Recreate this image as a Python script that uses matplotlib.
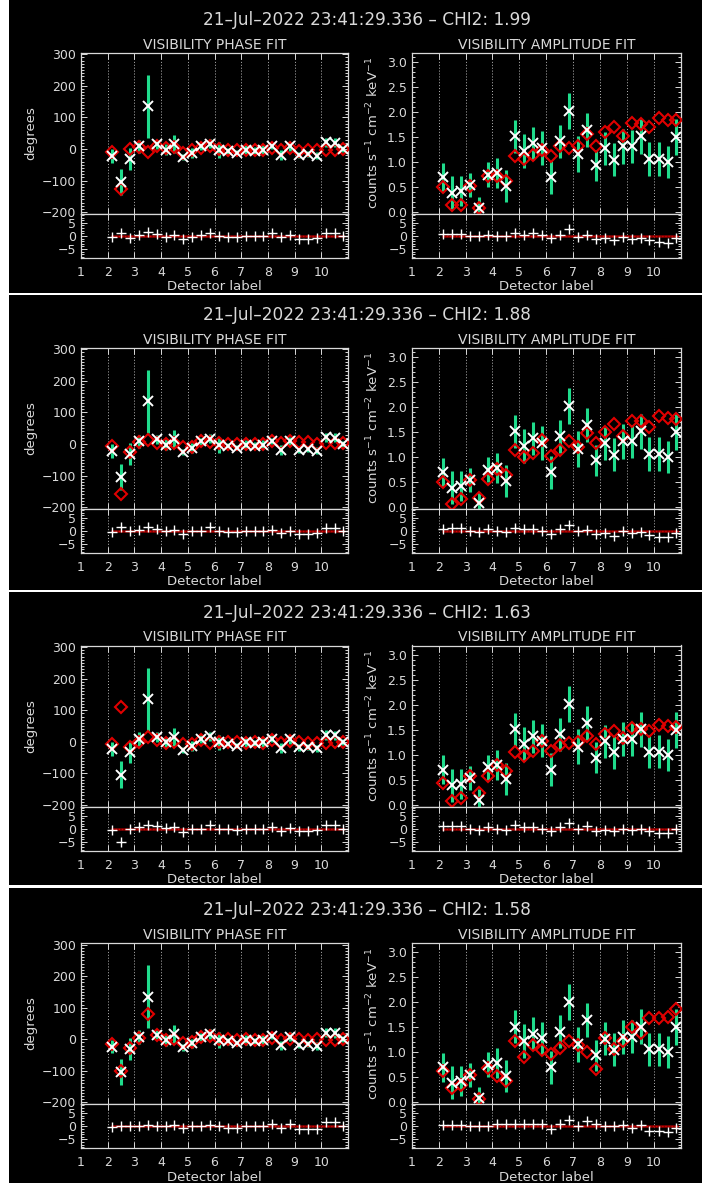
import matplotlib
matplotlib.use("Agg")
import matplotlib.pyplot as plt
from matplotlib.patches import Rectangle
from matplotlib.ticker import MultipleLocator, AutoMinorLocator

plt.rcParams['font.family'] = ['DejaVu Sans']

# ---------------- data ----------------
detector_x = [2.17, 2.5, 2.83, 3.17, 3.5, 3.83, 4.17, 4.5, 4.83, 5.17, 5.5, 5.83,
              6.17, 6.5, 6.83, 7.17, 7.5, 7.83, 8.17, 8.5, 8.83, 9.17, 9.5, 9.83,
              10.17, 10.5, 10.83]

obs_phase = [-23, -104, -31, 8, 135, 15, -2, 16, -26, -13, 8, 17,
             -2, -7, -12, -2, -5, -2, 10, -19, 8, -18, -16, -21, 21, 20, 0]
obs_phase_err = [22, 42, 35, 22, 100, 15, 18, 28, 10, 15, 12, 15,
                 25, 10, 8, 15, 10, 15, 10, 15, 15, 10, 10, 12, 15, 15, 10]

obs_amp = [0.70, 0.39, 0.42, 0.54, 0.09, 0.75, 0.79, 0.52, 1.51, 1.22, 1.37, 1.28,
           0.70, 1.41, 2.01, 1.16, 1.64, 0.94, 1.27, 1.05, 1.31, 1.31, 1.51, 1.06,
           1.06, 1.00, 1.50]
obs_amp_err = [0.29, 0.33, 0.30, 0.24, 0.22, 0.25, 0.30, 0.32, 0.33, 0.34, 0.33, 0.33,
               0.33, 0.33, 0.36, 0.35, 0.34, 0.31, 0.33, 0.33, 0.34, 0.33, 0.35, 0.33,
               0.33, 0.32, 0.36]

chi2_values = ["1.99", "1.88", "1.63", "1.58"]

model_phase_1 = [-8, -128, 0, 5, -8, 10, 2, 5, -12, -4, 4, 8,
                 1, -2, -3, -3, -4, -3, 2, -2, 3, -5, -4, -3, -2, -2, 0]
model_phase_2 = [-7, -160, -26, 7, 13, 3, 0, 2, -8, -10, 8, 7,
                 2, 0, 1, 1, 1, -1, 10, 2, 8, 5, 5, 0, 3, 3, 3]
model_phase_3 = [-7, 111, -18, 0, 16, 5, -3, 0, -8, -7, 5, -3,
                 0, 0, 0, -5, 0, -3, 5, -3, 3, -2, -3, -5, -3, -2, 0]
model_phase_4 = [-16, -101, -29, 5, 79, 12, -3, 2, -13, -8, 7, 10,
                 2, 2, -3, 0, -3, -3, 4, -3, 2, 0, -2, 0, -3, -1, 0]

res_phase_1 = [-0.3, 1.0, -0.7, 0.5, 1.6, 0.6, -0.3, 0.5, -1.0, -0.4, 0.2, 1.0,
               0.1, -0.4, -0.4, -0.2, -0.1, -0.1, 1.0, -0.5, 0.5, -1.0, -1.0, -0.8,
               1.2, 1.2, 0.0]
res_phase_2 = [-0.4, 1.5, -0.1, 0.2, 1.5, 0.8, 0.0, 0.2, -1.0, -0.1, 0.0, 1.4,
               0.0, -0.3, -0.5, 0.0, 0.0, 0.0, 0.5, -0.8, 0.0, -1.0, -1.0, -0.6,
               1.2, 1.1, 0.0]
res_phase_3 = [-0.3, -5.0, -0.1, 0.6, 1.4, 1.0, 0.3, 0.6, -1.2, -0.1, 0.1, 1.3,
               -0.1, -0.1, -0.6, 0.1, -0.1, 0.1, 0.5, -0.7, 0.3, -1.0, -0.8, -0.6,
               1.4, 1.3, 0.0]
res_phase_4 = [-0.2, 0.0, 0.0, 0.2, 0.5, 0.0, 0.0, 0.5, -0.7, 0.0, 0.0, 0.5,
               0.0, -0.6, -0.6, 0.0, 0.0, 0.0, 0.7, -0.7, 0.7, -1.2, -1.2, -1.2,
               1.5, 1.5, 0.0]

model_amp_1 = [0.50, 0.15, 0.15, 0.52, 0.08, 0.73, 0.72, 0.62, 1.13, 1.06, 1.14, 1.25,
               1.12, 1.31, 1.28, 1.31, 1.56, 1.31, 1.59, 1.69, 1.51, 1.78, 1.76, 1.70,
               1.88, 1.83, 1.83]
model_amp_2 = [0.50, 0.07, 0.16, 0.54, 0.18, 0.57, 0.77, 0.65, 1.14, 1.00, 1.08, 1.33,
               1.02, 1.15, 1.31, 1.20, 1.47, 1.27, 1.49, 1.65, 1.42, 1.71, 1.72, 1.60,
               1.82, 1.78, 1.75]
model_amp_3 = [0.44, 0.07, 0.13, 0.57, 0.24, 0.58, 0.80, 0.67, 1.06, 0.98, 1.08, 1.27,
               1.08, 1.19, 1.23, 1.25, 1.37, 1.21, 1.42, 1.47, 1.34, 1.54, 1.52, 1.48,
               1.59, 1.57, 1.56]
model_amp_4 = [0.63, 0.29, 0.34, 0.55, 0.06, 0.69, 0.52, 0.42, 1.23, 0.90, 1.15, 1.04,
               0.97, 1.08, 1.23, 1.15, 1.01, 0.66, 1.28, 1.07, 1.23, 1.51, 1.39, 1.69,
               1.69, 1.70, 1.86]

res_amp_1 = [0.9, 0.6, 0.6, 0.0, 0.0, 0.2, 0.1, -0.2, 1.2, 0.5, 1.0, 0.3,
             -0.9, 0.4, 2.5, -0.4, 0.2, -1.2, -0.7, -1.6, -0.4, -1.2, -0.8, -1.6,
             -2.3, -2.5, -0.9]
res_amp_2 = [0.9, 1.2, 1.0, -0.2, -0.5, 0.7, 0.0, -0.3, 1.0, 0.6, 0.8, 0.0,
             -1.0, 0.6, 2.4, -0.1, 0.5, -1.0, -0.8, -1.8, -0.1, -0.9, -0.5, -1.5,
             -2.2, -2.4, -0.8]
res_amp_3 = [1.0, 1.2, 1.2, 0.0, -0.3, 0.8, 0.0, -0.3, 1.4, 0.6, 0.8, 0.0,
             -1.0, 0.8, 2.2, 0.0, 0.9, -1.0, -0.3, -1.0, 0.1, -0.3, 0.1, -1.0,
             -1.5, -1.5, 0.1]
res_amp_4 = [0.3, 0.4, 0.3, 0.0, 0.0, 0.0, 0.8, 0.7, 0.7, 0.7, 0.7, 0.7,
             -0.9, 1.0, 2.4, 0.0, 1.9, 0.7, 0.0, 0.0, 0.3, -0.6, 0.3, -1.8,
             -1.8, -2.0, -0.7]

model_phase = [model_phase_1, model_phase_2, model_phase_3, model_phase_4]
res_phase = [res_phase_1, res_phase_2, res_phase_3, res_phase_4]
model_amp = [model_amp_1, model_amp_2, model_amp_3, model_amp_4]
res_amp = [res_amp_1, res_amp_2, res_amp_3, res_amp_4]

x_ticks = [1, 2, 3, 4, 5, 6, 7, 8, 9, 10]
grid_x = [2, 3, 4, 5, 6, 7, 8, 9, 10]

# ---------------- style ----------------
W, H = 702, 1183
FG = '#d9d9d9'
GREEN = '#1fdc8c'
RED = '#e00000'
DARKRED = '#8a0000'

fig = plt.figure(figsize=(W / 100, H / 100), dpi=100, facecolor='white')

panel_bounds = [(0, 293), (295, 590), (592, 885), (888, 1183)]
box_tops = [52.7, 347.7, 645.5, 943.0]


def add_ax(x0, y0, x1, y1):
    return fig.add_axes([x0 / W, 1 - y1 / H, (x1 - x0) / W, (y1 - y0) / H])


def style(ax, xlabels):
    ax.set_facecolor('black')
    for s in ax.spines.values():
        s.set_color(FG)
        s.set_linewidth(0.9)
    ax.tick_params(axis='both', which='both', direction='in', colors=FG,
                   top=True, right=True, labelsize=9, width=0.7)
    ax.tick_params(axis='both', which='major', length=4)
    ax.tick_params(axis='y', which='minor', length=2)
    ax.tick_params(axis='x', which='minor', length=0)
    ax.set_xlim(1, 11)
    ax.set_xticks(x_ticks)
    for gx in grid_x:
        ax.axvline(gx, color='#bbbbbb', ls=(0, (1, 2)), lw=0.7, zorder=0)
    if not xlabels:
        ax.set_xticklabels([])
    else:
        ax.tick_params(axis='x', pad=6)
        ax.set_xlabel('Detector label', color=FG, fontsize=9.5, labelpad=1)


def residual_zero(ax):
    ax.plot([detector_x[0], detector_x[-1]], [0, 0], color=DARKRED, lw=1.8, zorder=2)
    ax.plot([detector_x[0], 11], [0, 0], color=RED, ls=(0, (1, 1.5)), lw=0.9, zorder=2)


for i in range(4):
    p0, p1 = panel_bounds[i]
    fig.patches.append(Rectangle((9 / W, 1 - p1 / H), (W - 9) / W, (p1 - p0) / H,
                                 transform=fig.transFigure, facecolor='black',
                                 edgecolor='none', zorder=-10))
    top = box_tops[i]
    mid = top + 161
    bot = mid + 44

    fig.text(367 / W, 1 - (top - 33) / H,
             f'21\u2013Jul\u20132022 23:41:29.336 \u2013 CHI2: {chi2_values[i]}',
             color=FG, fontsize=12.2, ha='center', va='center')

    # ---- phase ----
    axp = add_ax(81, top, 348, mid)
    style(axp, False)
    axp.set_ylim(-205, 305)
    axp.yaxis.set_major_locator(MultipleLocator(100))
    axp.yaxis.set_minor_locator(AutoMinorLocator(10))
    axp.set_title('VISIBILITY PHASE FIT', color=FG, fontsize=10, pad=3)
    axp.set_ylabel('degrees', color=FG, fontsize=9.5, labelpad=3)
    axp.errorbar(detector_x, obs_phase, yerr=obs_phase_err, fmt='none',
                 ecolor=GREEN, elinewidth=2.2, capsize=0, zorder=2)
    axp.plot(detector_x, model_phase[i], ls='none', marker='D', ms=6,
             mfc='none', mec=RED, mew=1.5, zorder=3)
    axp.plot(detector_x, obs_phase, ls='none', marker='x', ms=6.5,
             color='white', mew=1.4, zorder=4)

    axr = add_ax(81, mid, 348, bot)
    style(axr, True)
    axr.set_ylim(-8.3, 8.5)
    axr.yaxis.set_major_locator(MultipleLocator(5))
    axr.yaxis.set_minor_locator(AutoMinorLocator(5))
    residual_zero(axr)
    axr.plot(detector_x, res_phase[i], ls='none', marker='+', ms=7,
             color='white', mew=1.0, zorder=4)

    # ---- amplitude ----
    axa = add_ax(411.7, top, 681, mid)
    style(axa, False)
    axa.set_ylim(-0.03, 3.18)
    axa.yaxis.set_major_locator(MultipleLocator(0.5))
    axa.yaxis.set_minor_locator(AutoMinorLocator(5))
    axa.yaxis.set_major_formatter(matplotlib.ticker.FormatStrFormatter('%.1f'))
    axa.set_title('VISIBILITY AMPLITUDE FIT', color=FG, fontsize=10, pad=3)
    axa.set_ylabel(r'counts s$^{-1}$ cm$^{-2}$ keV$^{-1}$', color=FG,
                   fontsize=9.5, labelpad=4)
    axa.errorbar(detector_x, obs_amp, yerr=obs_amp_err, fmt='none',
                 ecolor=GREEN, elinewidth=2.2, capsize=0, zorder=2)
    axa.plot(detector_x, model_amp[i], ls='none', marker='D', ms=6,
             mfc='none', mec=RED, mew=1.5, zorder=3)
    axa.plot(detector_x, obs_amp, ls='none', marker='x', ms=6.5,
             color='white', mew=1.4, zorder=4)

    axar = add_ax(411.7, mid, 681, bot)
    style(axar, True)
    axar.set_ylim(-8.3, 8.5)
    axar.yaxis.set_major_locator(MultipleLocator(5))
    axar.yaxis.set_minor_locator(AutoMinorLocator(5))
    residual_zero(axar)
    axar.plot(detector_x, res_amp[i], ls='none', marker='+', ms=7,
              color='white', mew=1.0, zorder=4)

fig.savefig('out.png', dpi=100, facecolor='white')
